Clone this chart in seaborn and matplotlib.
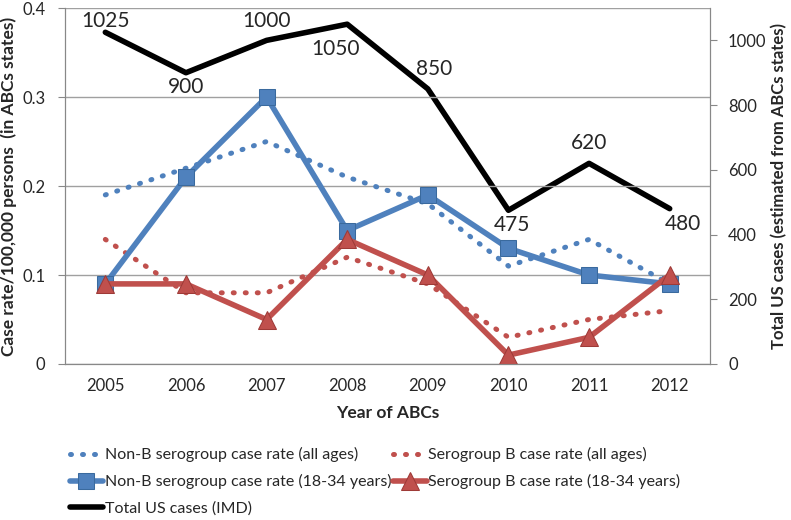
import matplotlib
matplotlib.use("Agg")
import matplotlib.pyplot as plt
import seaborn as sns
import pandas as pd
import numpy as np

years = ["2005", "2006", "2007", "2008", "2009", "2010", "2011", "2012"]
nonb_all = [0.19, 0.22, 0.25, 0.21, 0.18, 0.11, 0.14, 0.09]
b_all = [0.14, 0.08, 0.08, 0.12, 0.09, 0.03, 0.05, 0.06]
nonb_1834 = [0.09, 0.21, 0.30, 0.15, 0.19, 0.13, 0.10, 0.09]
b_1834 = [0.09, 0.09, 0.05, 0.14, 0.10, 0.01, 0.03, 0.10]
total_us = [1025, 900, 1000, 1050, 850, 475, 620, 480]
left_ticks = [0, 0.1, 0.2, 0.3, 0.4]
right_ticks = [0, 200, 400, 600, 800, 1000]

sns.set_style("white")
plt.rcParams["font.family"] = ["Lato", "DejaVu Sans"]

BLUE = "#4F81BD"
RED = "#C0504D"

df = pd.DataFrame({"x": np.arange(len(years)), "nonb_all": nonb_all, "b_all": b_all,
                   "nonb_1834": nonb_1834, "b_1834": b_1834, "total": total_us})

fig = plt.figure(figsize=(7.91, 5.2), dpi=100)
ax = fig.add_axes([0.0822, 0.30, 0.8154, 0.6846])
ax2 = ax.twinx()

sns.lineplot(data=df, x="x", y="nonb_all", ax=ax, color=BLUE, lw=3.6,
             linestyle=(0, (0.2, 2.2)), dash_capstyle="round",
             label="Non-B serogroup case rate (all ages)", legend=False)
sns.lineplot(data=df, x="x", y="b_all", ax=ax, color=RED, lw=3.6,
             linestyle=(0, (0.2, 2.2)), dash_capstyle="round",
             label="Serogroup B case rate (all ages)", legend=False)
sns.lineplot(data=df, x="x", y="nonb_1834", ax=ax, color=BLUE, lw=4,
             marker="s", markersize=11, markeredgecolor="#3A6A9E", markerfacecolor=BLUE,
             label="Non-B serogroup case rate (18-34 years)", legend=False)
sns.lineplot(data=df, x="x", y="b_1834", ax=ax, color=RED, lw=4,
             marker="^", markersize=13, markeredgecolor="#9E3A37", markerfacecolor=RED,
             label="Serogroup B case rate (18-34 years)", legend=False)
sns.lineplot(data=df, x="x", y="total", ax=ax2, color="black", lw=4,
             label="Total US cases (IMD)", legend=False)

ax.set_zorder(ax2.get_zorder() + 1)
ax.patch.set_visible(False)

ax.set_xlim(-0.5, len(years) - 0.5)
ax.set_ylim(0, 0.4)
ax2.set_ylim(0, 1100)
ax.set_yticks(left_ticks)
ax.set_yticklabels(["0", "0.1", "0.2", "0.3", "0.4"])
ax2.set_yticks(right_ticks)
ax.set_xticks(np.arange(len(years)))
ax.set_xticklabels(years)
ax.set_xticks(np.arange(len(years) + 1) - 0.5, minor=True)
ax.tick_params(axis="x", which="major", length=0, labelsize=12, pad=10)
ax.tick_params(axis="x", which="minor", length=5, color="#888888", direction="out")
ax.tick_params(axis="y", length=5, color="#888888", labelsize=12, direction="out", pad=9)
ax2.tick_params(axis="y", length=5, color="#888888", labelsize=12, direction="out", pad=8)

ax.grid(axis="y", color="#A0A0A0", lw=1)
ax.grid(axis="x", visible=False)
for a in (ax, ax2):
    a.spines["top"].set_visible(False)
    for s in ["left", "right", "bottom"]:
        a.spines[s].set_color("#888888")

ax.set_xlabel("Year of ABCs", fontsize=12.5, fontweight="bold", labelpad=8)
ax.set_ylabel("Case rate/100,000 persons  (in ABCs states)", fontsize=12.5, fontweight="bold", labelpad=4)
ax2.set_ylabel("Total US cases (estimated from ABCs states)", fontsize=12, fontweight="bold", labelpad=3)

# offsets in pixels (dpi 100), converted to points
offsets_px = [(0, 11), (0, -14), (0, 19), (-12, -25), (6, 20), (4, -15), (0, 20), (13, -15)]
for i, (v, off) in enumerate(zip(total_us, offsets_px)):
    ax2.annotate(str(v), (i, v), xytext=(off[0] * 0.72, off[1] * 0.72), textcoords="offset points",
                 ha="center", va="center", fontsize=15)

h1, l1 = ax.get_legend_handles_labels()
h2, l2 = ax2.get_legend_handles_labels()
handles = [h1[0], h1[2], h2[0], h1[1], h1[3]]
labels = [l1[0], l1[2], l2[0], l1[1], l1[3]]
fig.legend(handles, labels, ncol=2, loc="upper left", bbox_to_anchor=(0.080, 0.152),
           frameon=False, fontsize=11.5, handlelength=2.1, handletextpad=0.1,
           columnspacing=0.1, labelspacing=0.75, borderaxespad=0)

fig.savefig("out.png", dpi=100)
